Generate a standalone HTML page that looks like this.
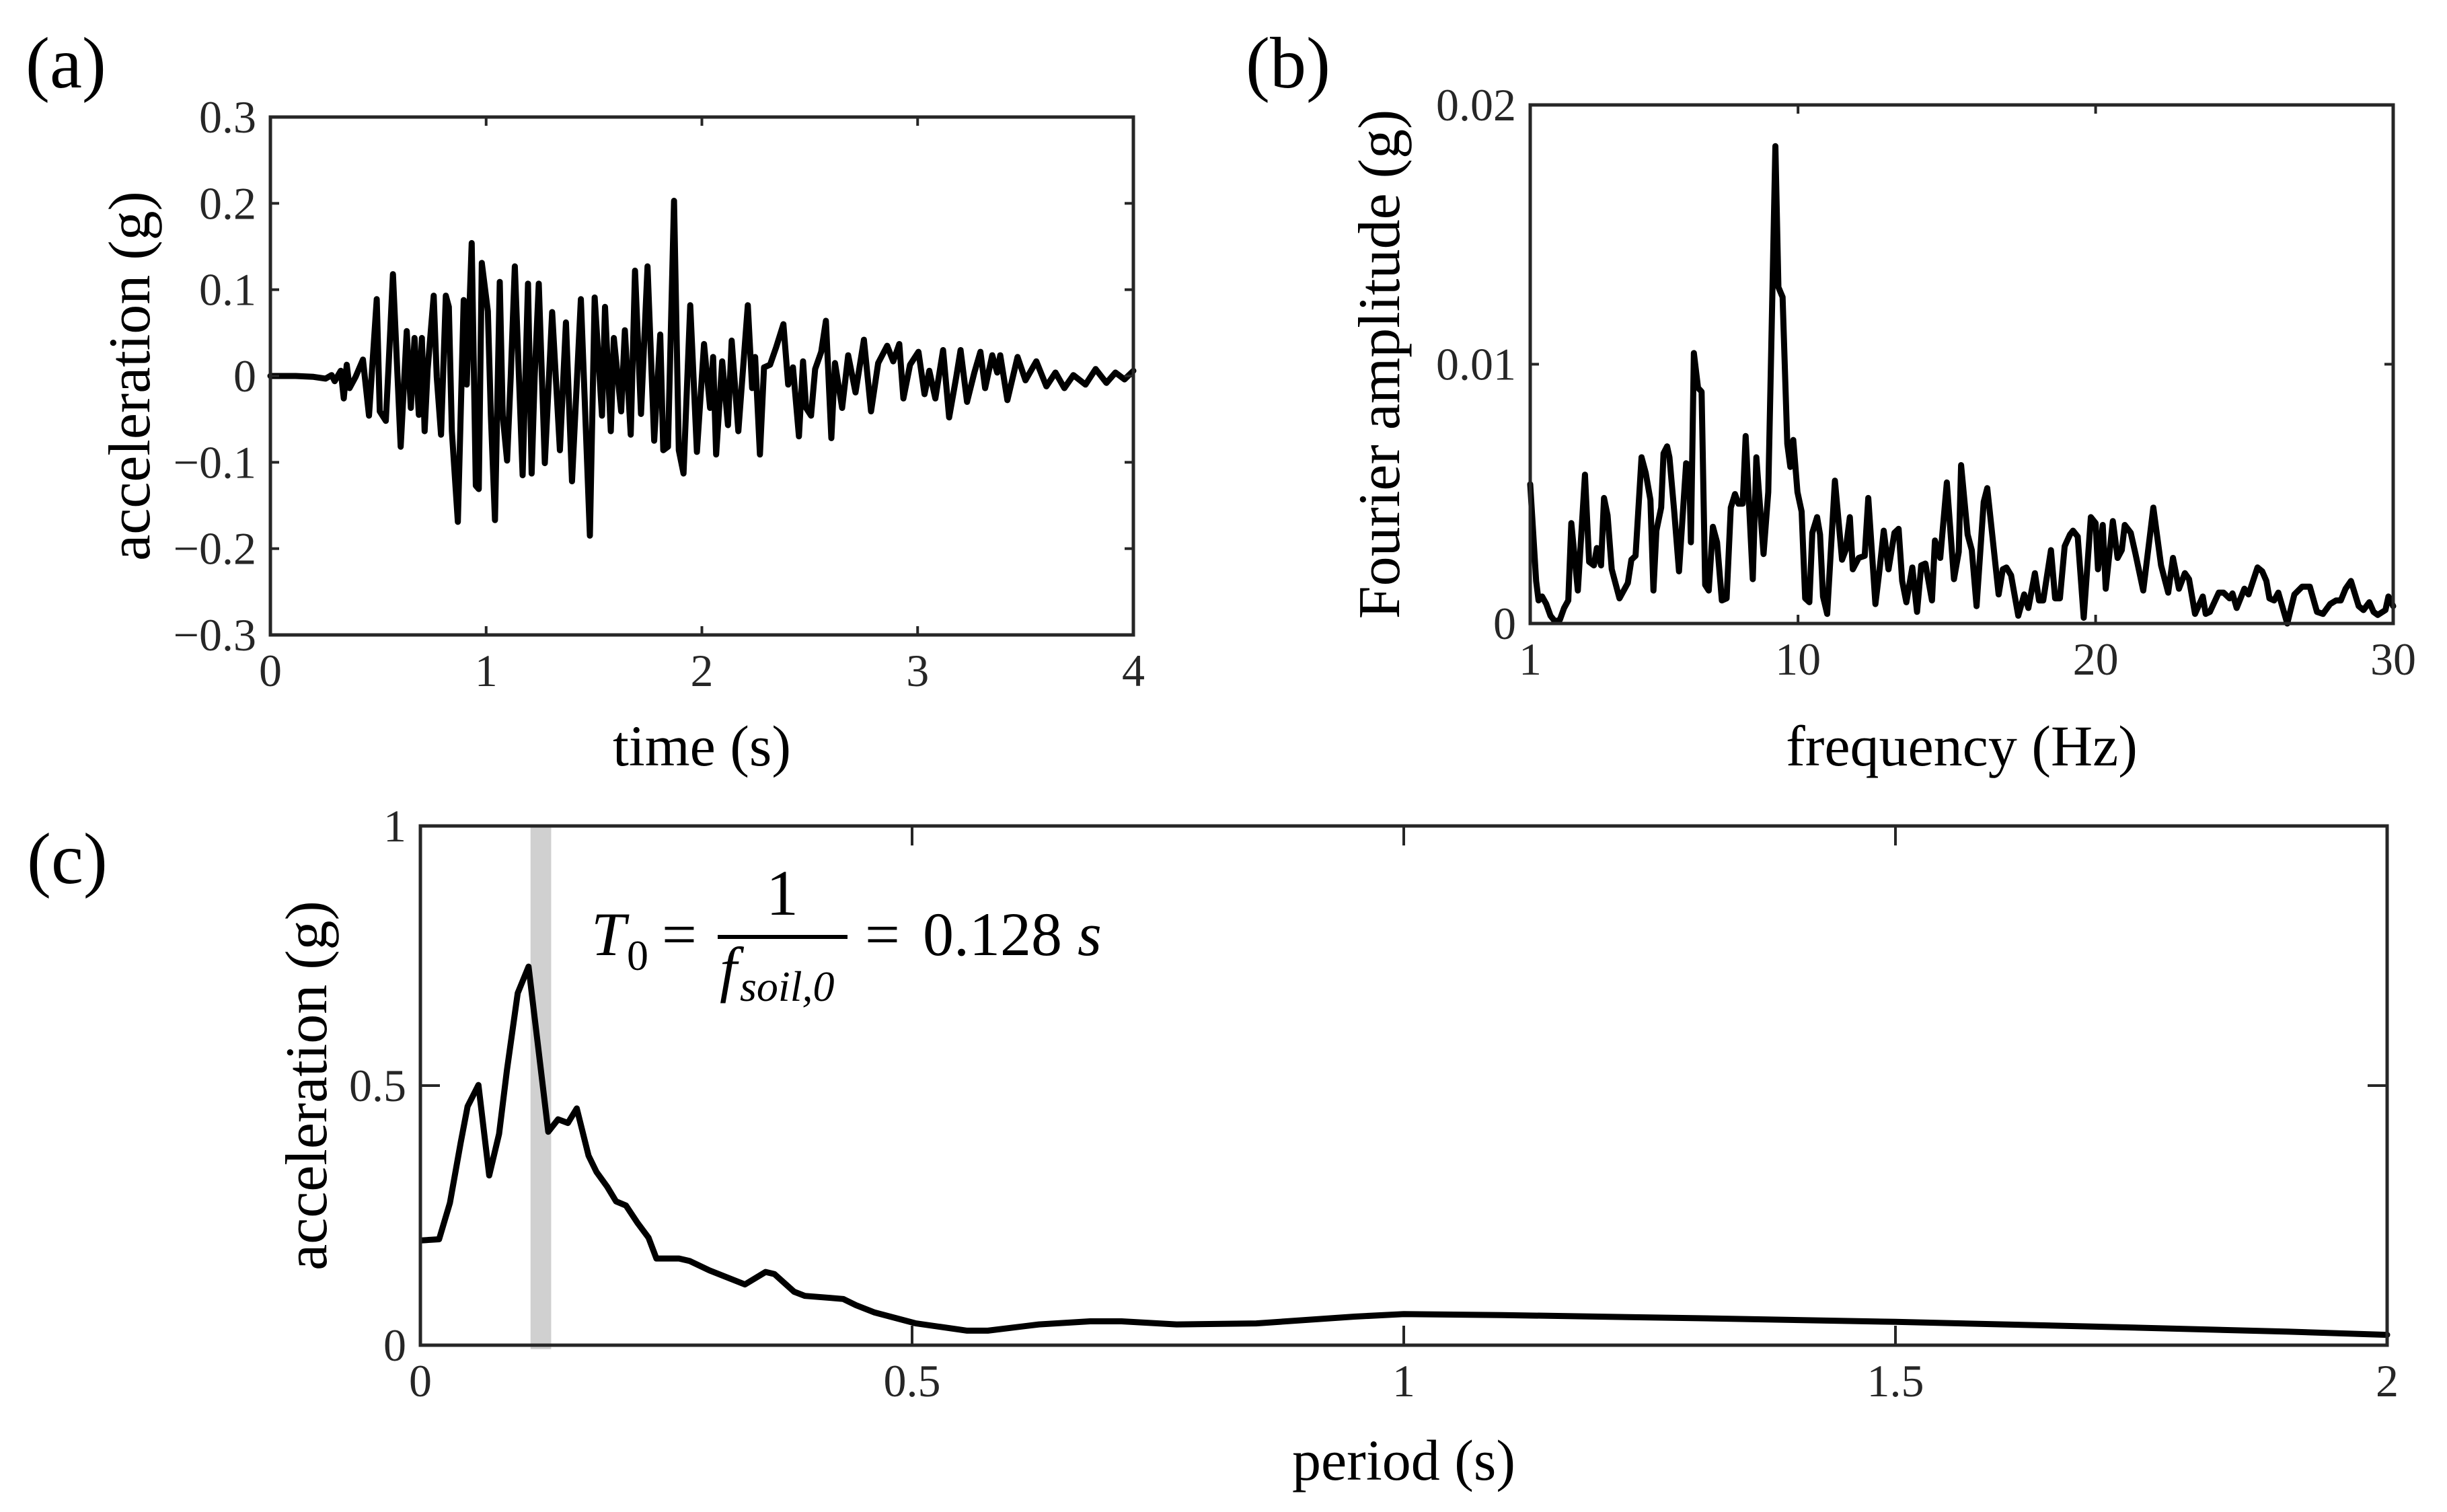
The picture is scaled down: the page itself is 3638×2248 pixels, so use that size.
<!DOCTYPE html>
<html><head><meta charset="utf-8"><style>
html,body{margin:0;padding:0;background:#fff;}
svg{display:block;font-family:"Liberation Serif","DejaVu Serif",serif;}
</style></head><body>
<svg id="fig" width="3638" height="2248" viewBox="0 0 3638 2248" xmlns="http://www.w3.org/2000/svg">
<rect width="3638" height="2248" fill="#fff"/>
<text x="38" y="130" font-size="108">(a)</text>
<text x="1852" y="130" font-size="108">(b)</text>
<text x="40" y="1313" font-size="108">(c)</text>
<g id="eq">
<text x="879" y="1420" font-size="92" font-style="italic">T</text>
<text x="932" y="1442" font-size="64">0</text>
<text x="984" y="1420" font-size="92">=</text>
<text x="1163" y="1360" font-size="96" text-anchor="middle">1</text>
<rect x="1067" y="1390" width="193" height="6" fill="#000"/>
<text x="1070" y="1472" font-size="92" font-style="italic">f</text>
<text x="1100" y="1488" font-size="64" font-style="italic">soil,0</text>
<text x="1286" y="1420" font-size="92">=</text>
<text x="1372" y="1420" font-size="92">0.128 <tspan font-style="italic">s</tspan></text>
</g>
</svg>
<script>
// Panel (a): acceleration time history
const timeA = [0,0.117,0.200,0.256,0.284,0.298,0.326,0.340,0.354,0.367,0.395,0.429,0.457,0.493,0.507,0.535,0.548,0.568,0.604,0.632,0.651,0.668,0.688,0.702,0.715,0.729,0.757,0.771,0.791,0.813,0.827,0.841,0.869,0.896,0.910,0.933,0.952,0.966,0.980,1.008,1.022,1.041,1.063,1.077,1.097,1.114,1.133,1.169,1.194,1.211,1.225,1.244,1.272,1.306,1.342,1.370,1.398,1.439,1.481,1.503,1.537,1.551,1.578,1.592,1.626,1.643,1.670,1.690,1.718,1.748,1.779,1.807,1.821,1.843,1.871,1.893,1.915,1.946,1.977,2.010,2.038,2.052,2.066,2.094,2.121,2.138,2.169,2.213,2.233,2.247,2.269,2.288,2.316,2.344,2.378,2.400,2.422,2.450,2.469,2.483,2.506,2.525,2.553,2.575,2.600,2.617,2.650,2.678,2.712,2.751,2.784,2.817,2.859,2.887,2.915,2.934,2.965,3.004,3.032,3.054,3.082,3.118,3.146,3.179,3.199,3.229,3.263,3.291,3.313,3.346,3.369,3.383,3.416,3.463,3.500,3.550,3.597,3.639,3.680,3.722,3.778,3.825,3.875,3.917,3.959,4.000];
const accelA = [0,0,-0.001,-0.003,0.001,-0.006,0.006,-0.026,0.013,-0.014,-0.001,0.019,-0.046,0.089,-0.041,-0.052,0.013,0.118,-0.082,0.052,-0.037,0.044,-0.045,0.044,-0.064,0.008,0.093,-0.001,-0.068,0.093,0.080,-0.064,-0.169,0.088,-0.010,0.154,-0.127,-0.131,0.131,0.075,-0.046,-0.167,0.109,-0.046,-0.098,-0.001,0.127,-0.115,0.107,-0.113,-0.001,0.107,-0.101,0.074,-0.086,0.062,-0.122,0.089,-0.185,0.091,-0.046,0.080,-0.064,0.044,-0.041,0.053,-0.068,0.122,-0.044,0.127,-0.075,0.048,-0.086,-0.082,0.203,-0.086,-0.113,0.082,-0.088,0.037,-0.037,0.022,-0.091,0.017,-0.057,0.041,-0.064,0.082,-0.014,0.022,-0.091,0.010,0.013,0.033,0.060,-0.010,0.010,-0.070,0.017,-0.037,-0.046,0.008,0.028,0.064,-0.072,0.015,-0.037,0.024,-0.019,0.042,-0.041,0.015,0.035,0.017,0.037,-0.026,0.013,0.028,-0.021,0.006,-0.026,0.030,-0.048,-0.001,0.030,-0.030,0.004,0.028,-0.014,0.024,0.004,0.024,-0.028,0.022,-0.005,0.017,-0.012,0.004,-0.014,0.001,-0.010,0.008,-0.008,0.004,-0.004,0.006];
const xTicksA = [0,1,2,3,4];
const yTicksA = [-0.3,-0.2,-0.1,0,0.1,0.2,0.3];
const yTickLabelsA = ["\u22120.3","\u22120.2","\u22120.1","0","0.1","0.2","0.3"];

// Panel (b): Fourier amplitude spectrum
const freqB = [1.00,1.20,1.28,1.40,1.54,1.68,1.84,2.00,2.14,2.28,2.38,2.60,2.84,2.98,3.14,3.24,3.38,3.48,3.60,3.74,4.00,4.28,4.40,4.54,4.74,4.88,5.04,5.14,5.24,5.40,5.48,5.60,5.68,5.84,6.00,6.24,6.34,6.40,6.50,6.64,6.76,6.88,7.00,7.14,7.28,7.44,7.60,7.74,7.88,8.00,8.14,8.24,8.48,8.60,8.84,9.00,9.08,9.24,9.34,9.48,9.64,9.74,9.84,9.98,10.12,10.24,10.38,10.48,10.64,10.74,10.84,10.98,11.24,11.48,11.60,11.74,11.84,12.04,12.24,12.36,12.60,12.74,12.88,13.04,13.24,13.38,13.50,13.64,13.84,14.00,14.14,14.28,14.50,14.60,14.78,15.00,15.24,15.40,15.48,15.70,15.84,16.00,16.24,16.36,16.74,16.88,17.00,17.16,17.40,17.60,17.74,17.96,18.10,18.24,18.50,18.64,18.80,18.96,19.14,19.24,19.40,19.60,19.84,20.00,20.08,20.24,20.34,20.58,20.74,20.88,20.98,21.18,21.34,21.60,21.94,22.20,22.44,22.60,22.80,23.00,23.14,23.34,23.60,23.70,23.84,24.14,24.30,24.50,24.60,24.74,25.00,25.14,25.44,25.60,25.74,25.84,26.00,26.14,26.44,26.68,26.94,27.20,27.44,27.64,27.88,28.08,28.24,28.40,28.58,28.84,29.00,29.20,29.34,29.48,29.74,29.84,30.00];
const ampB = [0.00537,0.00164,0.00089,0.00104,0.00075,0.00030,0.00007,0.00015,0.00060,0.00089,0.00387,0.00127,0.00574,0.00238,0.00224,0.00291,0.00224,0.00484,0.00417,0.00209,0.00097,0.00156,0.00246,0.00261,0.00641,0.00581,0.00477,0.00127,0.00358,0.00447,0.00656,0.00683,0.00641,0.00432,0.00201,0.00618,0.00611,0.00313,0.01043,0.00909,0.00894,0.00149,0.00127,0.00373,0.00313,0.00089,0.00097,0.00447,0.00499,0.00462,0.00462,0.00723,0.00171,0.00641,0.00268,0.00507,0.00954,0.01841,0.01297,0.01259,0.00693,0.00604,0.00708,0.00507,0.00432,0.00097,0.00082,0.00350,0.00410,0.00343,0.00104,0.00037,0.00551,0.00246,0.00283,0.00410,0.00209,0.00253,0.00261,0.00484,0.00075,0.00209,0.00358,0.00209,0.00350,0.00365,0.00164,0.00082,0.00216,0.00045,0.00224,0.00231,0.00089,0.00320,0.00253,0.00544,0.00171,0.00276,0.00611,0.00343,0.00283,0.00067,0.00469,0.00522,0.00112,0.00209,0.00216,0.00186,0.00030,0.00112,0.00060,0.00194,0.00089,0.00089,0.00283,0.00097,0.00097,0.00298,0.00343,0.00358,0.00335,0.00022,0.00410,0.00387,0.00209,0.00380,0.00134,0.00395,0.00253,0.00283,0.00380,0.00350,0.00268,0.00127,0.00447,0.00224,0.00119,0.00253,0.00134,0.00194,0.00171,0.00037,0.00104,0.00037,0.00045,0.00119,0.00119,0.00097,0.00116,0.00060,0.00134,0.00112,0.00216,0.00201,0.00164,0.00097,0.00089,0.00119,0.00000,0.00112,0.00142,0.00142,0.00045,0.00037,0.00075,0.00089,0.00089,0.00134,0.00164,0.00067,0.00052,0.00082,0.00045,0.00033,0.00052,0.00104,0.00067];
const xTicksB = [1,10,20,30];
const yTicksB = [0,0.01,0.02];
const yTickLabelsB = ["0","0.01","0.02"];

// Panel (c): response spectrum
const periodC = [0.002,0.019,0.030,0.041,0.048,0.059,0.070,0.080,0.088,0.099,0.110,0.119,0.130,0.140,0.150,0.159,0.171,0.179,0.190,0.199,0.209,0.221,0.232,0.240,0.263,0.274,0.294,0.330,0.351,0.360,0.380,0.391,0.417,0.430,0.443,0.462,0.504,0.556,0.577,0.629,0.681,0.713,0.769,0.850,0.950,1.000,1.100,1.300,1.500,1.700,1.900,2.000];
const spectralC = [0.202,0.204,0.274,0.390,0.460,0.501,0.327,0.407,0.530,0.678,0.729,0.586,0.411,0.435,0.428,0.456,0.365,0.334,0.305,0.277,0.269,0.235,0.207,0.167,0.167,0.162,0.144,0.117,0.141,0.137,0.103,0.095,0.091,0.089,0.077,0.063,0.042,0.028,0.028,0.040,0.046,0.046,0.040,0.042,0.055,0.060,0.058,0.052,0.045,0.036,0.026,0.020];
const bandC = [0.112,0.133];
const xTicksC = [0,0.5,1,1.5,2];
const xTickLabelsC = ["0","0.5","1","1.5","2"];
const yTicksC = [0,0.5,1];
const yTickLabelsC = ["0","0.5","1"];

const NS = "http://www.w3.org/2000/svg";
const svg = document.getElementById('fig');
function mk(tag, attrs, parent) {
  const e = document.createElementNS(NS, tag);
  for (const k in attrs) e.setAttribute(k, attrs[k]);
  (parent || svg).appendChild(e);
  return e;
}
function linScale(d0, d1, r0, r1) { return v => r0 + (v - d0) / (d1 - d0) * (r1 - r0); }

function drawAxes(p) {
  const g = mk('g', {});
  
  
  const ax = p.L, ay = p.T, aw = p.R - p.L, ah = p.B - p.T;
  const tl = p.tick;
  p.xt.forEach((v, i) => {
    const x = p.sx(v);
    const t1 = mk('line', {x1: x, y1: p.B, x2: x, y2: p.B - tl, stroke: '#262626', 'stroke-width': 4}, g);
    
    
    const t2 = mk('line', {x1: x, y1: p.T, x2: x, y2: p.T + tl, stroke: '#262626', 'stroke-width': 4}, g);
    
    
    const lb = mk('text', {x: x, y: p.B + 76, 'font-size': 68, 'text-anchor': 'middle', fill: '#262626'}, g);
    lb.textContent = p.xl[i];
    
    
  });
  p.yt.forEach((v, i) => {
    const y = p.sy(v);
    const t1 = mk('line', {x1: p.L, y1: y, x2: p.L + tl, y2: y, stroke: '#262626', 'stroke-width': 4}, g);
    
    
    const t2 = mk('line', {x1: p.R, y1: y, x2: p.R - tl, y2: y, stroke: '#262626', 'stroke-width': 4}, g);
    
    
    const lb = mk('text', {x: p.L - 21, y: y + 23, 'font-size': 68, 'text-anchor': 'end', fill: '#262626'}, g);
    lb.textContent = p.yl[i];
    
    
  });
  const box = mk('rect', {x: ax, y: ay, width: aw, height: ah, fill: 'none', stroke: '#262626', 'stroke-width': 5}, g);
  
  
  const xl = mk('text', {x: (p.L + p.R) / 2, y: p.xlabY, 'font-size': 86, 'text-anchor': 'middle'}, g);
  xl.textContent = p.xlab;
  
  
  const cy = (p.T + p.B) / 2;
  const yl = mk('text', {x: p.ylabX, y: cy, 'font-size': 88, 'text-anchor': 'middle', transform: 'rotate(-90 ' + p.ylabX + ' ' + cy + ')'}, g);
  yl.textContent = p.ylab;
  
  
  return g;
}
function drawLine(xs, ys, sx, sy, name) {
  let d = '';
  xs.forEach((x, i) => { d += (i ? 'L' : 'M') + sx(x).toFixed(1) + ' ' + sy(ys[i]).toFixed(1); });
  const path = mk('path', {d: d, fill: 'none', stroke: '#000', 'stroke-width': 9, 'stroke-linejoin': 'round', 'stroke-linecap': 'round'});
  
  
}

const A = {L: 402, R: 1685, T: 174, B: 944};
A.sx = linScale(0, 4, A.L, A.R); A.sy = linScale(-0.3, 0.3, A.B, A.T);
drawLine(timeA, accelA, A.sx, A.sy, 'acceleration-series');
drawAxes(Object.assign(A, {name: 'panel-a-axes', tick: 13, xt: xTicksA, xl: xTicksA.map(String), yt: yTicksA, yl: yTickLabelsA, xlab: 'time (s)', xlabY: 1138, ylab: 'acceleration (g)', ylabX: 222}));

const B = {L: 2275, R: 3558, T: 156, B: 927};
B.sx = linScale(1, 30, B.L, B.R); B.sy = linScale(0, 0.02, B.B, B.T);
drawLine(freqB, ampB, B.sx, B.sy, 'fourier-amplitude-series');
drawAxes(Object.assign(B, {name: 'panel-b-axes', tick: 13, xt: xTicksB, xl: xTicksB.map(String), yt: yTicksB, yl: yTickLabelsB, xlab: 'frequency (Hz)', xlabY: 1138, ylab: 'Fourier amplitude (g)', ylabX: 2080}));

const C = {L: 625, R: 3549, T: 1228, B: 2000};
C.sx = linScale(0, 2, C.L, C.R); C.sy = linScale(0, 1, C.B, C.T);
const band = mk('rect', {x: C.sx(bandC[0]), y: C.T, width: C.sx(bandC[1]) - C.sx(bandC[0]), height: C.B - C.T + 6, fill: '#d0d0d0'});


drawLine(periodC, spectralC, C.sx, C.sy, 'response-spectrum-series');
drawAxes(Object.assign(C, {name: 'panel-c-axes', tick: 29, xt: xTicksC, xl: xTickLabelsC, yt: yTicksC, yl: yTickLabelsC, xlab: 'period (s)', xlabY: 2200, ylab: 'acceleration (g)', ylabX: 485}));
svg.appendChild(document.getElementById('eq'));
</script>
</body></html>
